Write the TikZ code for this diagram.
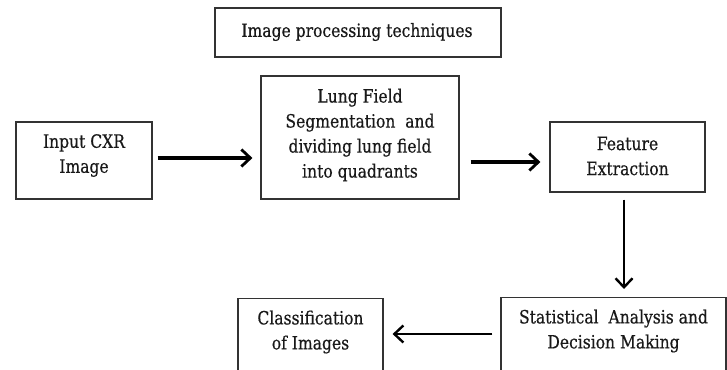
\documentclass[tikz,border=0pt]{standalone}
\usepackage{fontspec}
\setmainfont[FakeStretch=0.85,FakeBold=0.5]{DejaVu Serif}
\usetikzlibrary{arrows.meta,calc}
\begin{document}
\begin{tikzpicture}[x=1pt,y=-1pt,
  box/.style={draw=black!80, line width=1.2pt, inner sep=0pt},
  txt/.style={align=center, inner sep=0pt, text=black!90, font=\fontsize{18.3}{25}\selectfont},
  arr/.style={-{Straight Barb[length=9pt,width=17pt,line width=2.8pt]}, line width=3.2pt},
  arrthin/.style={-{Straight Barb[length=9pt,width=17pt,line width=2.4pt]}, line width=2.5pt}]
\clip (0,0) rectangle (727,369);
\useasboundingbox (0,0) rectangle (727,369);
% boxes
\node (top) [box, minimum width=286pt, minimum height=49pt] at (358,32.5) {};
\node (toptext) [txt] at (357,32) {Image processing techniques};
\node (input) [box, minimum width=136pt, minimum height=77pt] at (84,160.5) {};
\node (inputtext) [txt] at (84,155.5) {Input CXR\\Image};
\node (lung) [box, minimum width=198pt, minimum height=123pt] at (360,137.5) {};
\node (lungtext) [txt] at (360,135) {Lung Field\\Segmentation~ and\\dividing lung field\\into quadrants};
\node (feat) [box, minimum width=155pt, minimum height=70pt] at (627.5,157) {};
\node (feattext) [txt] at (627.5,156) {Feature\\Extraction};
\node (stat) [box, minimum width=225pt, minimum height=100pt, anchor=north] at (613.5,297) {};
\node (stattext) [txt] at (613.5,331) {Statistical~ Analysis and\\Decision Making};
\node (cls) [box, minimum width=145pt, minimum height=100pt, anchor=north] at (310.5,298) {};
\node (clstext) [txt] at (310.5,332) {Classification\\of Images};
% arrows
\coordinate (a1s) at ($(input.east)+(5pt,2.5pt)$);
\draw[arr] (a1s) -- ($(lung.west |- a1s)+(-8pt,0)$);
\coordinate (a2s) at ($(lung.east |- feat.west)+(11pt,-5pt)$);
\draw[arr] (a2s) -- ($(feat.west |- a2s)+(-9pt,0)$);
\coordinate (a3s) at ($(feat.south)+(-3.5pt,-7pt)$);
\draw[arrthin] (a3s) -- ($(a3s |- stat.north)+(0,8pt)$);
\coordinate (a4s) at ($(stat.west)+(-8pt,0)$);
\coordinate (a4y) at (0,334);
\draw[arrthin] (a4s |- a4y) -- ($(cls.east |- a4y)+(9pt,0)$);
\end{tikzpicture}
\end{document}
